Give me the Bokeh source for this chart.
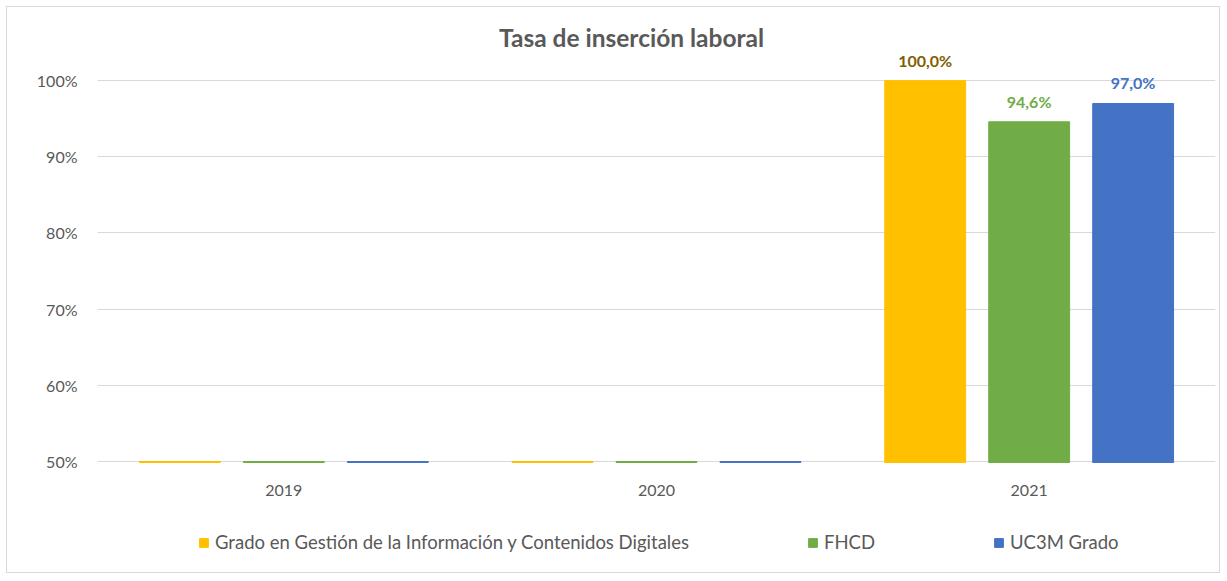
from bokeh.plotting import figure
from bokeh.models import (ColumnDataSource, FactorRange, Range1d, NumeralTickFormatter,
                          Legend, LegendItem, FixedTicker, LabelSet)
from bokeh.transform import dodge
from bokeh.core.properties import value
from bokeh.embed import file_html
from bokeh.resources import INLINE

# ---- data ----
years = ["2019", "2020", "2021"]
series_names = ["Grado en Gestión de la Información y Contenidos Digitales", "FHCD", "UC3M Grado"]
grado = [0.0, 0.0, 100.0]
fhcd = [0.0, 0.0, 94.6]
uc3m = [0.0, 0.0, 97.0]
y_ticks = [50, 60, 70, 80, 90, 100]
title_text = "Tasa de inserción laboral"

colors = ["#FFC000", "#70AD47", "#4472C4"]
label_colors = ["#7F6000", "#70AD47", "#4472C4"]
y_min, y_max = 50, 100
view_lo, view_hi = 36.48, 107.5
bar_base = y_min - 0.13
FONT = "Lato"

p = figure(x_range=FactorRange(*years), y_range=Range1d(view_lo, view_hi),
           frame_width=1118, frame_height=541, x_axis_location="above",
           min_border_left=90, min_border_top=16, min_border_right=4, min_border_bottom=8,
           output_backend="svg", toolbar_location=None, tools="")
p.styles = {"border": "1px solid #d9d9d9", "margin-left": "6px", "margin-top": "6px"}
p.outline_line_color = None
p.background_fill_color = "white"
p.border_fill_color = "white"

offsets = [-0.279, 0.0, 0.279]
renderers = []
for name, vals, col, lcol, off in zip(series_names, [grado, fhcd, uc3m], colors, label_colors, offsets):
    tops = [max(v, y_min) for v in vals]
    labels = [(f"{v:.1f}%".replace(".", ",") if v > y_min else "") for v in vals]
    src = ColumnDataSource(dict(x=years, top=tops, val=vals, lab=labels))
    r = p.vbar(x=dodge("x", off, range=p.x_range), top="top", bottom=bar_base, width=0.217,
               source=src, fill_color=col, line_color=col, line_width=1)
    renderers.append(r)
    ls = LabelSet(x=dodge("x", off, range=p.x_range), y="top", text="lab", source=src,
                  text_align="center", text_baseline="bottom", y_offset=11,
                  text_font=value(FONT), text_font_style="bold", text_font_size="16px",
                  text_color=lcol)
    p.add_layout(ls)

# axes
p.yaxis.ticker = FixedTicker(ticks=y_ticks)
p.yaxis.formatter = NumeralTickFormatter(format="0")
p.yaxis.major_label_overrides = {t: f"{t}%" for t in y_ticks}
p.yaxis.axis_line_color = None
p.yaxis.major_tick_line_color = None
p.yaxis.minor_tick_line_color = None
p.yaxis.major_tick_out = 0
p.yaxis.major_tick_in = 0
p.yaxis.major_label_standoff = 20
p.xaxis.fixed_location = y_min
p.xaxis.axis_line_color = None
p.xaxis.major_tick_line_color = None
p.xaxis.major_tick_out = 0
p.xaxis.major_tick_in = 0
p.xaxis.major_label_standoff = -34
for ax in (p.xaxis, p.yaxis):
    ax.major_label_text_font = FONT
    ax.major_label_text_font_size = "16px"
    ax.major_label_text_color = "#595959"

p.xgrid.grid_line_color = None
p.ygrid.grid_line_color = "#d9d9d9"
p.ygrid.grid_line_width = 1

# title (drawn inside the frame, above the 100% line)
p.text(x=[years[1]], y=[105.6], text=[title_text], x_offset=-25,
       text_align="center", text_baseline="middle", text_font=value(FONT),
       text_font_style="bold", text_font_size="24.5px", text_color="#595959")

legend = Legend(items=[LegendItem(label=n, renderers=[r]) for n, r in zip(series_names, renderers)],
                orientation="horizontal", location=(101, 11), padding=0, margin=0,
                spacing=118, glyph_width=11, glyph_height=11, label_standoff=6,
                label_text_font=FONT, label_text_font_size="18.5px", label_text_color="#595959",
                border_line_color=None, background_fill_alpha=0)
p.add_layout(legend, "center")

open("out.html", "w").write(file_html(p, INLINE))
